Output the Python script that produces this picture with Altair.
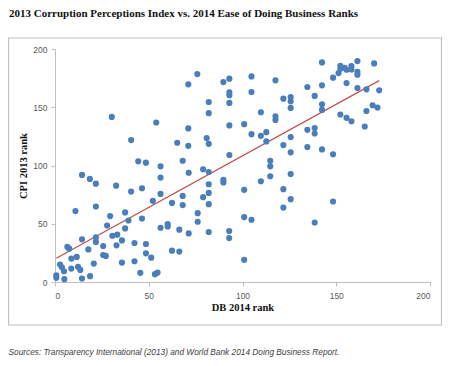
import altair as alt
import pandas as pd

# DB 2014 rank (x) and CPI 2013 rank (y)
db_rank = [30.3, 54.0, 40.6, 44.4, 48.5, 56.3, 14.4, 18.6, 21.8, 56.3, 32.6, 40.6, 46.4, 56.3, 52.2,
           10.9, 21.8, 37.4, 29.4, 39.2, 46.4, 27.8, 56.3, 37.4, 30.6, 33.2, 21.8, 14.4, 21.8, 35.7,
           6.6, 7.6, 17.8, 25.7, 32.8, 42.4, 48.5, 25.7, 27.1, 11.6, 8.7, 48.5, 51.3, 20.7, 35.7,
           42.4, 2.7, 3.7, 8.7, 12.3, 13.5, 4.8, 45.5, 53.3, 54.7, 0.7, 0.7, 5.0, 18.7, 14.4,
           68.1, 71.3, 79.0, 82.0, 82.0, 89.8, 89.8, 82.0, 68.1, 79.0, 62.4, 68.1, 82.0, 100.9, 109.8,
           114.8, 114.8, 114.8, 125.7, 121.8, 125.7, 121.8, 76.1, 76.1, 100.9, 104.8, 60.1, 60.1, 66.3, 71.3,
           82.0, 92.9, 92.9, 62.4, 66.3, 100.9, 75.9, 71.1, 89.8, 93.0, 104.8, 117.6, 93.0, 93.0, 104.8,
           82.0, 93.0, 121.8, 125.7, 125.7, 125.7, 82.0, 109.8, 117.6, 117.6, 71.1, 93.0, 100.9, 104.8, 109.8,
           112.7, 112.7, 80.9, 82.0, 65.2, 71.1, 121.8, 125.7, 125.7, 93.0,
           142.4, 152.2, 152.2, 154.5, 158.1, 158.1, 161.3, 161.3, 161.3, 151.2, 148.3, 155.5, 170.2, 155.5, 142.4,
           134.6, 161.3, 166.1, 172.9, 138.5, 142.4, 142.4, 169.4, 172.0, 166.1, 152.2, 155.5, 158.1, 165.2, 134.6,
           138.5, 138.5, 134.6, 142.4, 148.3, 148.3, 138.5]
cpi_rank = [141.7, 136.9, 121.8, 103.6, 102.4, 99.3, 91.9, 88.5, 84.4, 89.6, 82.7, 77.6, 80.5, 75.6, 69.7,
            60.9, 64.8, 59.7, 56.6, 52.8, 54.5, 48.5, 46.6, 46.0, 39.7, 40.6, 38.3, 36.6, 34.4, 35.7,
            30.1, 28.6, 28.0, 30.9, 31.5, 33.5, 32.6, 23.2, 22.4, 21.5, 20.1, 24.6, 20.9, 15.8, 16.7,
            17.8, 15.0, 12.6, 11.5, 13.0, 10.4, 9.2, 7.9, 6.7, 8.1, 5.8, 3.6, 2.4, 5.0, 3.0,
            104.1, 93.8, 96.8, 94.4, 83.9, 87.6, 85.5, 76.5, 73.9, 72.8, 67.9, 66.0, 66.8, 79.1, 86.5,
            104.1, 99.3, 90.8, 92.7, 79.7, 71.1, 63.9, 59.1, 51.7, 55.7, 53.4, 49.7, 47.7, 44.9, 41.7,
            42.9, 43.8, 37.8, 26.9, 26.1, 19.0, 178.5, 169.7, 171.6, 174.5, 176.5, 173.1, 162.8, 160.3, 163.1,
            154.5, 153.7, 157.4, 158.8, 155.1, 149.4, 144.9, 145.7, 142.3, 139.1, 131.8, 134.4, 135.5, 126.9, 125.5,
            128.6, 120.7, 123.5, 118.6, 119.5, 116.9, 117.5, 124.4, 111.3, 109.0,
            188.5, 185.6, 183.1, 183.9, 185.3, 182.5, 189.6, 180.5, 178.0, 179.3, 175.4, 182.2, 187.6, 170.8, 168.8,
            167.4, 166.5, 165.4, 164.5, 159.7, 152.6, 147.7, 151.7, 149.7, 146.8, 143.8, 140.9, 138.0, 133.5, 130.6,
            132.1, 127.5, 115.8, 113.8, 109.6, 69.1, 51.1]

tick_values = [0, 50, 100, 150, 200]
chart_title = ["2013 Corruption Perceptions Index vs. 2014 Ease of Doing Business Ranks"]
x_title = "DB 2014 rank"
y_title = "CPI 2013 rank"
source_note = ["Sources: Transparency International (2013) and World Bank 2014 Doing Business Report."]

df = pd.DataFrame({"db": db_rank, "cpi": cpi_rank})

W, H = 375, 233

xs = alt.Scale(domain=[0, 200], nice=False)
ys = alt.Scale(domain=[0, 200], nice=False)

base = alt.Chart(df)

points = base.mark_circle(size=38, color="#4A7EBB", opacity=1).encode(
    x=alt.X("db:Q", scale=xs, title=x_title,
            axis=alt.Axis(values=tick_values, labelPadding=5, titlePadding=3)),
    y=alt.Y("cpi:Q", scale=ys, title=y_title,
            axis=alt.Axis(values=tick_values, labelPadding=4, titlePadding=4)),
)

trend = base.transform_regression("db", "cpi").mark_line(
    color="#C0504D", strokeWidth=1.2
).encode(x=alt.X("db:Q", scale=xs), y=alt.Y("cpi:Q", scale=ys))

notes = alt.Chart(pd.DataFrame({"note": source_note, "title": chart_title}))

frame = notes.mark_rect(fillOpacity=0, stroke="#BFBFBF", strokeWidth=1.2).encode(
    x=alt.value(-46.5), x2=alt.value(386.5), y=alt.value(-11), y2=alt.value(276)
)

note = notes.mark_text(
    align="left", baseline="alphabetic", font="Liberation Sans", fontStyle="italic",
    fontSize=8.3, color="#404040"
).encode(text="note:N", x=alt.value(-46.5), y=alt.value(306))

title = notes.mark_text(
    align="left", baseline="alphabetic", font="Liberation Serif", fontWeight="bold",
    fontSize=11, color="#111111"
).encode(text="title:N", x=alt.value(-46), y=alt.value(-32))

chart = alt.layer(frame, trend, points, note, title).properties(
    width=W, height=H,
    autosize=alt.AutoSizeParams(type="none"),
    padding={"left": 47, "top": 41, "right": 12, "bottom": 76},
    background="white",
).configure_view(strokeWidth=0).configure_axis(
    grid=False, domainColor="#BFBFBF", tickColor="#BFBFBF", tickSize=4,
    labelFont="Liberation Sans", labelFontSize=8.5, labelColor="#595959",
    titleFont="Liberation Serif", titleFontWeight="bold", titleFontSize=10.5, titleColor="#111111",
)

chart.save("out.html", embed_options={"renderer": "svg", "actions": False})
